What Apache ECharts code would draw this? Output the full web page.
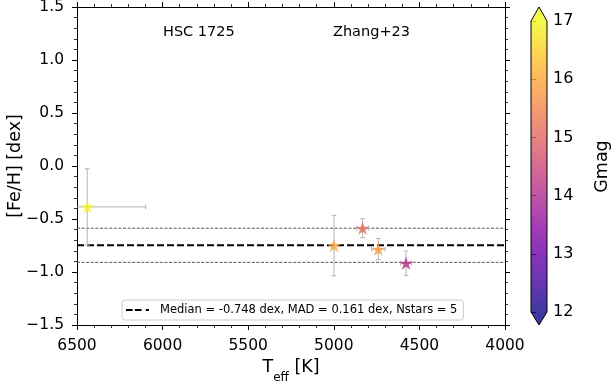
<!DOCTYPE html>
<html>
<head>
<meta charset="utf-8">
<script src="https://cdn.jsdelivr.net/npm/echarts@6/dist/echarts.min.js"></script>
<style>
  html, body { margin: 0; padding: 0; background: #fff; }
  #chart { width: 611px; height: 382px; }
</style>
</head>
<body>
<div id="chart"></div>
<script>
// stars: Teff, [Fe/H], Gmag
const teff = [6440, 4999, 4832, 4740, 4578]
const feh = [-0.386, -0.751, -0.587, -0.785, -0.917]
const gmag = [16.95, 15.95, 15.1, 15.85, 14.1]
const teffErr = [341, 0, 34, 40, 32]
const fehErr = [0.36, 0.285, 0.09, 0.1, 0.115]

const median = -0.748
const mad = 0.161
const nStars = 5
const cbTicks = [12, 13, 14, 15, 16, 17]
const legendLabel = `Median = ${median} dex, MAD = ${mad} dex, Nstars = ${nStars}`

const plasma = ['#0d0887', '#41049d', '#6a00a8', '#8f0da4', '#b12a90', '#cc4778',
  '#e16462', '#f2844b', '#fca636', '#fcce25', '#f0f921']

const font = 'DejaVu Sans'
const minus = v => String(v).replace('-', '\u2212')
const star = 'path://M100,0 L122.45,69.1 L195.1,69.1 L136.3,111.8 L158.8,180.9 L100,138.2 L41.2,180.9 L63.7,111.8 L4.9,69.1 L77.55,69.1 Z'
const dashIcon = 'path://M0,0h6.7v2h-6.7z M9,0h6.7v2h-6.7z M20,0h3.3v2h-3.3z'

function rgba(hex, a) {
  const n = parseInt(hex.slice(1), 16)
  return `rgba(${n >> 16},${(n >> 8) & 255},${n & 255},${a})`
}

// colour bar gradient incl. the extend triangles
const cbTop = 7, cbBarTop = 21, cbBarBot = 312, cbBot = 325
const cbStops = [{ offset: 0, color: rgba(plasma[10], 0.8) }]
const f0 = (cbBarTop - cbTop) / (cbBot - cbTop)
const f1 = (cbBarBot - cbTop) / (cbBot - cbTop)
plasma.slice().reverse().forEach((c, i) => {
  cbStops.push({ offset: f0 + (f1 - f0) * i / 10, color: rgba(c, 0.8) })
})
cbStops.push({ offset: 1, color: rgba(plasma[0], 0.8) })

const chart = echarts.init(document.getElementById('chart'))

const axisCommon = {
  type: 'value',
  axisLine: { show: true, onZero: false, lineStyle: { color: '#000', width: 1 } },
  axisTick: { show: true, inside: false, length: 5, lineStyle: { color: '#000', width: 1 } },
  minorTick: { show: true, splitNumber: 5, length: 3, lineStyle: { color: '#000', width: 0.8 } },
  splitLine: { show: false },
  minorSplitLine: { show: false }
}
const labelStyle = { color: '#000', fontFamily: font, fontSize: 15.5 }

chart.setOption({
  animation: false,
  textStyle: { fontFamily: font },
  grid: [
    { left: 77, right: 106, top: 7, bottom: 57, outerBoundsMode: 'none', containLabel: false },
    { left: 531, width: 16, top: cbBarTop, height: cbBarBot - cbBarTop, outerBoundsMode: 'none', containLabel: false }
  ],
  xAxis: [
    Object.assign({}, axisCommon, {
      gridIndex: 0, min: 4000, max: 6500, interval: 500, inverse: true, position: 'bottom',
      axisLabel: Object.assign({ margin: 13, formatter: v => String(v) }, labelStyle),
      name: '{a|T}{b|eff}{a| [K]}', nameLocation: 'middle', nameGap: 31,
      nameTextStyle: {
        rich: {
          a: { fontFamily: font, fontSize: 17.5, color: '#000' },
          b: { fontFamily: font, fontSize: 12, color: '#000', verticalAlign: 'bottom', padding: [0, 0, -7, 0] }
        }
      }
    }),
    Object.assign({}, axisCommon, {
      gridIndex: 0, min: 4000, max: 6500, interval: 500, inverse: true, position: 'top',
      axisLabel: { show: false }
    }),
    { gridIndex: 1, type: 'value', min: 0, max: 1, show: false }
  ],
  yAxis: [
    Object.assign({}, axisCommon, {
      gridIndex: 0, min: -1.5, max: 1.5, interval: 0.5, position: 'left',
      axisLabel: Object.assign({ margin: 13, formatter: v => minus(v.toFixed(1)) }, labelStyle),
      name: '[Fe/H] [dex]', nameLocation: 'middle', nameGap: 53, nameMoveOverlap: false,
      nameTextStyle: { fontFamily: font, fontSize: 17.5, color: '#000' }
    }),
    Object.assign({}, axisCommon, {
      gridIndex: 0, min: -1.5, max: 1.5, interval: 0.5, position: 'right',
      axisLabel: { show: false }
    }),
    {
      gridIndex: 1, type: 'value', min: cbTicks[0], max: cbTicks[cbTicks.length - 1], interval: 1,
      position: 'right',
      axisLine: { show: false },
      axisTick: { show: true, inside: false, length: 5, lineStyle: { color: '#000' } },
      axisLabel: Object.assign({ margin: 6 }, labelStyle, { fontSize: 16 }),
      splitLine: { show: false },
      name: 'Gmag', nameLocation: 'middle', nameGap: 46, nameRotate: 90,
      nameTextStyle: { fontFamily: font, fontSize: 17.5, color: '#000' }
    }
  ],
  visualMap: {
    show: false, type: 'continuous', seriesIndex: 4, dimension: 2,
    min: 12, max: 17, inRange: { color: plasma }
  },
  legend: {
    data: [{ name: legendLabel, icon: dashIcon }],
    left: 122, top: 300,
    itemWidth: 23, itemHeight: 2,
    padding: [4, 6, 4, 4],
    borderColor: '#cccccc', borderWidth: 1, borderRadius: 3,
    backgroundColor: 'rgba(255,255,255,0.8)',
    textStyle: { fontFamily: font, fontSize: 11.5, color: '#000', padding: [0, 0, 0, 6] }
  },
  graphic: [
    { type: 'text', left: 163, top: 25, style: { text: 'HSC 1725', font: '14.5px "DejaVu Sans"', fill: '#000' } },
    { type: 'text', left: 333, top: 25, style: { text: 'Zhang+23', font: '14.5px "DejaVu Sans"', fill: '#000' } },
    {
      type: 'polygon', z: 10,
      shape: { points: [[539, cbTop], [547, cbBarTop], [547, cbBarBot], [539, cbBot], [531, cbBarBot], [531, cbBarTop]] },
      style: {
        fill: { type: 'linear', x: 0, y: 0, x2: 0, y2: 1, colorStops: cbStops },
        stroke: '#000', lineWidth: 1
      }
    }
  ],
  series: [
    {
      type: 'line', xAxisIndex: 0, yAxisIndex: 0, z: 2,
      name: 'mad-hi', symbol: 'none', silent: true,
      data: [[6500, median + mad], [4000, median + mad]],
      lineStyle: { color: '#555', width: 1, type: [3, 1.6] }
    },
    {
      type: 'line', xAxisIndex: 0, yAxisIndex: 0, z: 2,
      name: 'mad-lo', symbol: 'none', silent: true,
      data: [[6500, median - mad], [4000, median - mad]],
      lineStyle: { color: '#555', width: 1, type: [3, 1.6] }
    },
    {
      type: 'line', xAxisIndex: 0, yAxisIndex: 0, z: 3,
      name: legendLabel, color: '#000',
      symbol: 'none', silent: true,
      data: [[6500, median], [4000, median]],
      itemStyle: { color: '#000' },
      lineStyle: { color: '#000', width: 2, type: [7, 3] }
    },
    {
      type: 'custom', xAxisIndex: 0, yAxisIndex: 0, z: 4, clip: true, silent: true,
      data: teff.map((t, i) => [t, feh[i], teffErr[i], fehErr[i]]),
      encode: { x: 0, y: 1 },
      renderItem(params, api) {
        const x = api.value(0), y = api.value(1), xe = api.value(2), ye = api.value(3)
        const style = { stroke: '#b5b5b5', lineWidth: 1 }
        const cap = 2.5
        const out = []
        const top = api.coord([x, y + ye]), bot = api.coord([x, y - ye])
        out.push({ type: 'line', shape: { x1: top[0], y1: top[1], x2: bot[0], y2: bot[1] }, style })
        out.push({ type: 'line', shape: { x1: top[0] - cap, y1: top[1], x2: top[0] + cap, y2: top[1] }, style })
        out.push({ type: 'line', shape: { x1: bot[0] - cap, y1: bot[1], x2: bot[0] + cap, y2: bot[1] }, style })
        if (xe > 0) {
          const l = api.coord([x + xe, y]), r = api.coord([x - xe, y])
          out.push({ type: 'line', shape: { x1: l[0], y1: l[1], x2: r[0], y2: r[1] }, style })
          out.push({ type: 'line', shape: { x1: l[0], y1: l[1] - cap, x2: l[0], y2: l[1] + cap }, style })
          out.push({ type: 'line', shape: { x1: r[0], y1: r[1] - cap, x2: r[0], y2: r[1] + cap }, style })
        }
        return { type: 'group', children: out }
      }
    },
    {
      type: 'scatter', xAxisIndex: 0, yAxisIndex: 0, z: 5, silent: true,
      symbol: star, symbolSize: [14, 13.3],
      itemStyle: { opacity: 0.8 },
      data: teff.map((t, i) => [t, feh[i], gmag[i]])
    }
  ]
})
</script>
</body>
</html>
